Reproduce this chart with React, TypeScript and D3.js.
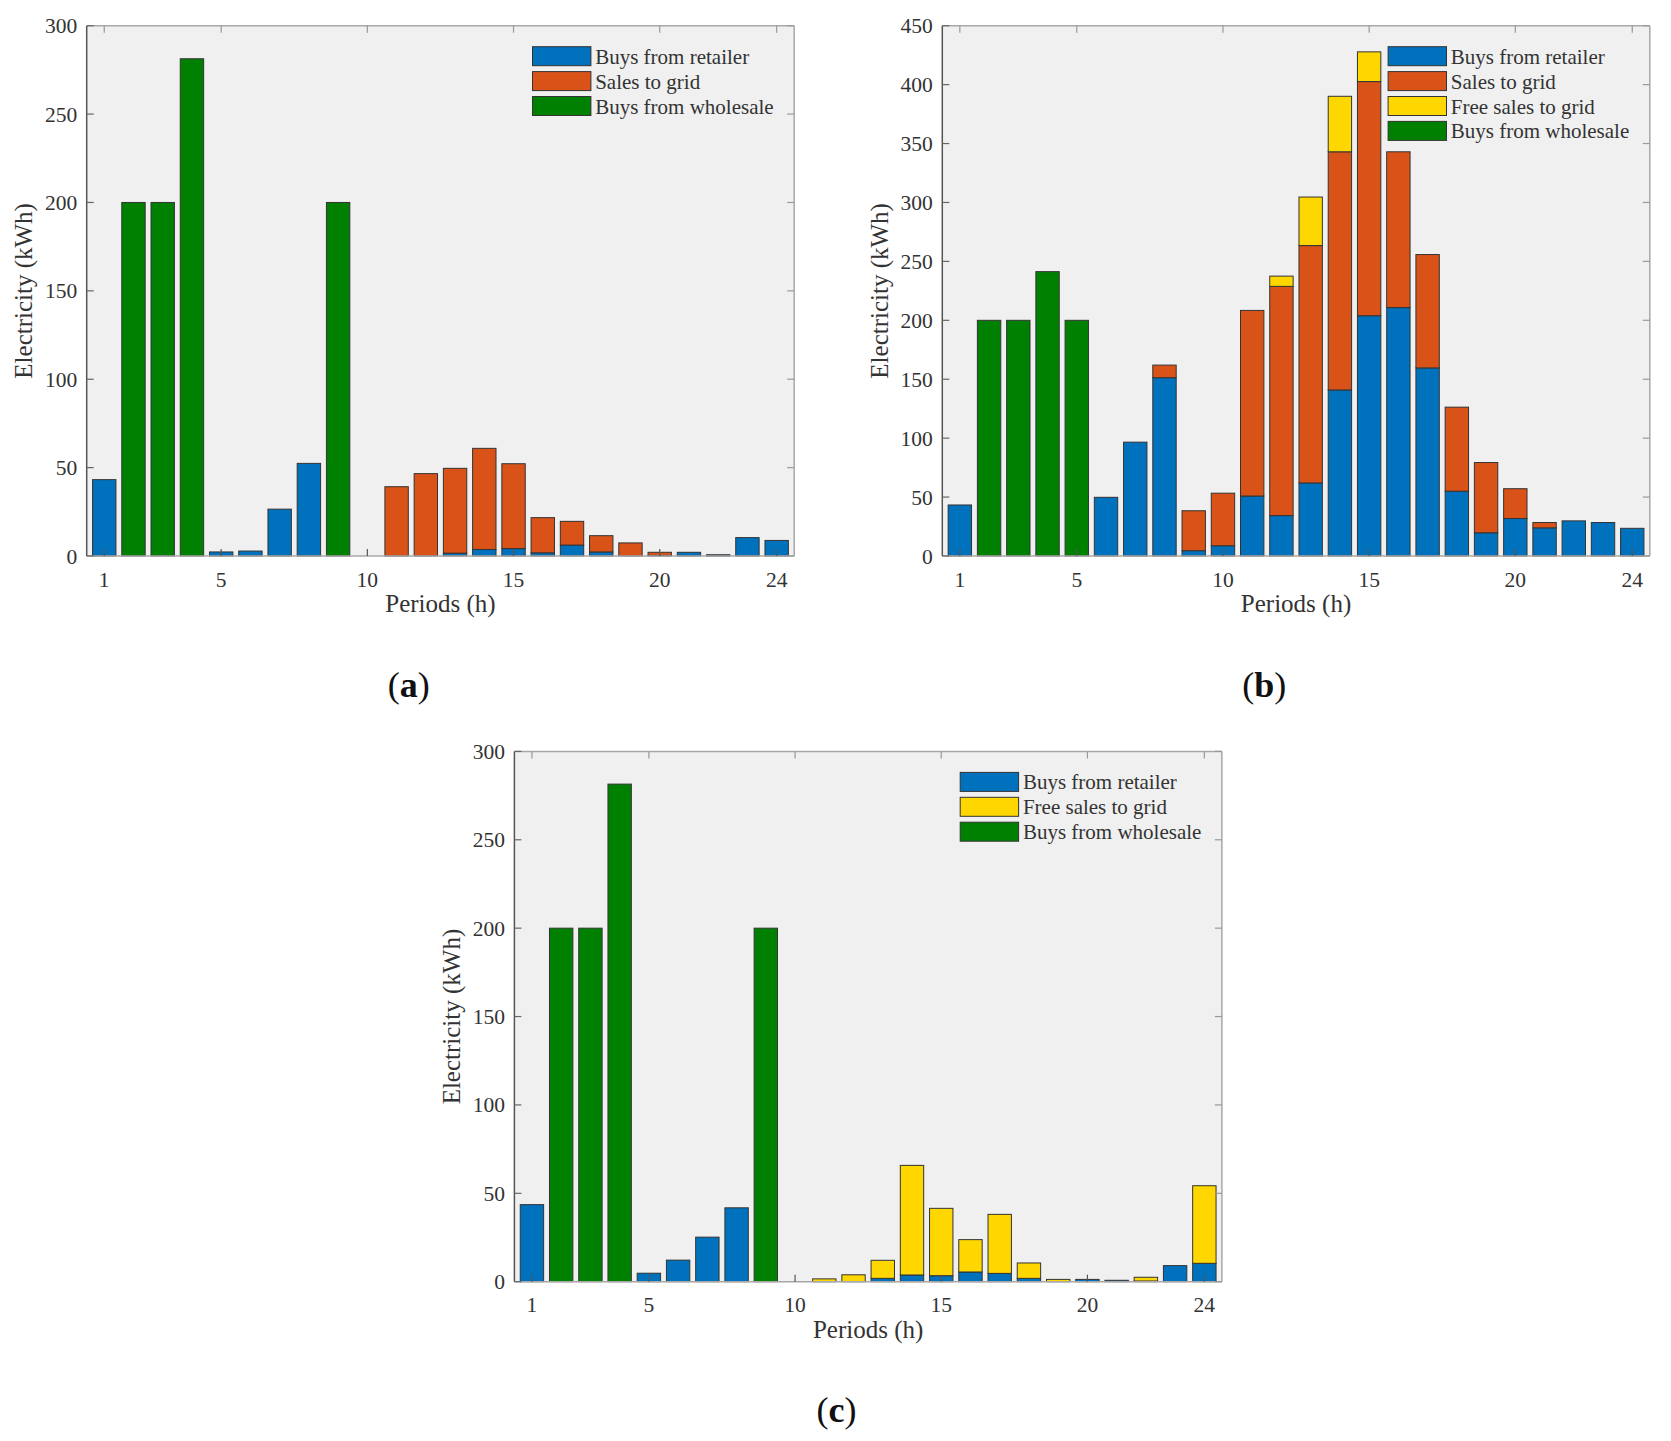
import React from 'react';
import * as d3 from 'd3';

const periods = [1, 2, 3, 4, 5, 6, 7, 8, 9, 10, 11, 12, 13, 14, 15, 16, 17, 18, 19, 20, 21, 22, 23, 24];
const xTickValues = [1, 5, 10, 15, 20, 24];

// Panel (a)
const aRetailer = [43.2, 0, 0, 0, 2.3, 2.8, 26.5, 52.4, 0, 0, 0, 0, 1.6, 3.7, 4.2, 1.8, 6.2, 2.3, 0, 0.3, 2.1, 0.7, 10.4, 8.8];
const aSales = [0, 0, 0, 0, 0, 0, 0, 0, 0, 0, 39.2, 46.6, 48.0, 57.2, 48.0, 19.9, 13.4, 9.2, 7.4, 1.8, 0, 0, 0, 0];
const aWholesale = [0, 200, 200, 281.3, 0, 0, 0, 0, 200, 0, 0, 0, 0, 0, 0, 0, 0, 0, 0, 0, 0, 0, 0, 0];

// Panel (b)
const bRetailer = [43.3, 0, 0, 0, 0, 49.8, 96.6, 151.3, 4.5, 8.7, 50.9, 34.3, 62.0, 140.9, 203.9, 210.8, 159.6, 55.0, 19.7, 31.8, 23.9, 29.8, 28.4, 23.5];
const bSales = [0, 0, 0, 0, 0, 0, 0, 10.7, 33.9, 44.6, 157.5, 194.5, 201.4, 202.1, 198.7, 132.2, 96.2, 71.3, 59.6, 25.3, 4.5, 0, 0, 0];
const bFree = [0, 0, 0, 0, 0, 0, 0, 0, 0, 0, 0, 8.7, 41.2, 47.1, 25.2, 0, 0, 0, 0, 0, 0, 0, 0, 0];
const bWholesale = [0, 200, 200, 241.3, 200, 0, 0, 0, 0, 0, 0, 0, 0, 0, 0, 0, 0, 0, 0, 0, 0, 0, 0, 0];

// Panel (c)
const cRetailer = [43.6, 0, 0, 0, 4.8, 12.2, 25.2, 41.8, 0, 0, 0, 0, 1.9, 3.8, 3.4, 5.5, 4.7, 1.9, 0, 1.3, 0.8, 0.4, 9.1, 10.4];
const cFree = [0, 0, 0, 0, 0, 0, 0, 0, 0, 0, 1.6, 3.9, 10.2, 62.0, 38.1, 18.3, 33.4, 8.7, 1.3, 0, 0, 2.1, 0, 43.9];
const cWholesale = [0, 200, 200, 281.5, 0, 0, 0, 0, 200, 0, 0, 0, 0, 0, 0, 0, 0, 0, 0, 0, 0, 0, 0, 0];

const COLORS = {
  retailer: '#0072BD',
  sales: '#D95319',
  free: '#FFD700',
  wholesale: '#008000',
};

const FONT = '"Liberation Serif", "Times New Roman", serif';
const TEXT = '#333333';

type Series = { key: string; label: string; color: string; values: number[] };

const PW = 707.5;
const PH = 530.3;

function Panel(props: {
  left: number;
  top: number;
  yMax: number;
  series: Series[];
  letter: string;
  captionY: number;
}) {
  const { left, top, yMax, series, letter, captionY } = props;
  const x = d3.scaleLinear().domain([0.4, 24.6]).range([left, left + PW]);
  const y = d3.scaleLinear().domain([0, yMax]).range([top + PH, top]);
  const rows = periods.map((p, i) => {
    const o: any = { period: p };
    series.forEach((s) => (o[s.key] = s.values[i]));
    return o;
  });
  const stacked = d3.stack<any>().keys(series.map((s) => s.key))(rows);
  const yTicks = y.ticks(yMax / 50);
  const bw = 0.8;
  const bottom = top + PH;
  const right = left + PW;
  const tl = 7;

  return (
    <g>
      <rect x={left} y={top} width={PW} height={PH} fill="#F0F0F0" />
      {stacked.map((layer, li) => (
        <g key={layer.key}>
          {layer.map((d, i) => {
            if (d[1] - d[0] <= 0) return null;
            const x0 = x(periods[i] - bw / 2);
            const x1 = x(periods[i] + bw / 2);
            return (
              <rect
                key={i}
                x={x0}
                y={y(d[1])}
                width={x1 - x0}
                height={y(d[0]) - y(d[1])}
                fill={series[li].color}
                stroke="#333333"
                strokeWidth={1}
              />
            );
          })}
        </g>
      ))}
      {/* frame */}
      <line x1={left} x2={right} y1={top} y2={top} stroke="#a8a8a8" strokeWidth={1.5} />
      <line x1={right} x2={right} y1={top} y2={bottom} stroke="#a8a8a8" strokeWidth={1.5} />
      <line x1={left} x2={right} y1={bottom} y2={bottom} stroke="#a8a8a8" strokeWidth={1.5} />
      <line x1={left} x2={left} y1={top} y2={bottom} stroke="#555555" strokeWidth={1.5} />
      {/* y ticks */}
      {yTicks.map((t) => (
        <g key={'y' + t}>
          <line x1={left} x2={left + tl} y1={y(t)} y2={y(t)} stroke="#666" strokeWidth={1.2} />
          <line x1={right} x2={right - tl} y1={y(t)} y2={y(t)} stroke="#999" strokeWidth={1.2} />
          <text
            x={left - 9.5}
            y={y(t)}
            dy="0.35em"
            textAnchor="end"
            fontFamily={FONT}
            fontSize={21.5}
            fill={TEXT}
          >
            {t}
          </text>
        </g>
      ))}
      {/* x ticks */}
      {xTickValues.map((t) => (
        <g key={'x' + t}>
          <line x1={x(t)} x2={x(t)} y1={bottom} y2={bottom - tl} stroke="#555" strokeWidth={1.2} />
          <line x1={x(t)} x2={x(t)} y1={top} y2={top + tl} stroke="#999" strokeWidth={1.2} />
          <text
            x={x(t)}
            y={bottom + 30.7}
            textAnchor="middle"
            fontFamily={FONT}
            fontSize={21.5}
            fill={TEXT}
          >
            {t}
          </text>
        </g>
      ))}
      {/* axis labels */}
      <text
        x={(left + right) / 2}
        y={bottom + 56.3}
        textAnchor="middle"
        fontFamily={FONT}
        fontSize={25}
        fill={TEXT}
      >
        Periods (h)
      </text>
      <text
        transform={`translate(${left - 54.7},${(top + bottom) / 2}) rotate(-90)`}
        textAnchor="middle"
        fontFamily={FONT}
        fontSize={25}
        fill={TEXT}
      >
        Electricity (kWh)
      </text>
      {/* legend */}
      {series.map((s, i) => {
        const lx = right - 261.7;
        const ly = top + 21 + i * 24.9;
        return (
          <g key={'lg' + s.key}>
            <rect x={lx} y={ly} width={58.4} height={19} fill={s.color} stroke="#333333" strokeWidth={1} />
            <text
              x={lx + 62.7}
              y={ly + 9.5}
              dy="0.36em"
              fontFamily={FONT}
              fontSize={21}
              fill={TEXT}
            >
              {s.label}
            </text>
          </g>
        );
      })}
      {/* caption */}
      <text x={left + 322} y={captionY} textAnchor="middle" fontFamily={FONT} fontSize={36} fill="#111">
        <tspan>(</tspan>
        <tspan fontWeight="bold">{letter}</tspan>
        <tspan>)</tspan>
      </text>
    </g>
  );
}

export default function App() {
  const seriesA: Series[] = [
    { key: 'retailer', label: 'Buys from retailer', color: COLORS.retailer, values: aRetailer },
    { key: 'sales', label: 'Sales to grid', color: COLORS.sales, values: aSales },
    { key: 'wholesale', label: 'Buys from wholesale', color: COLORS.wholesale, values: aWholesale },
  ];
  const seriesB: Series[] = [
    { key: 'retailer', label: 'Buys from retailer', color: COLORS.retailer, values: bRetailer },
    { key: 'sales', label: 'Sales to grid', color: COLORS.sales, values: bSales },
    { key: 'free', label: 'Free sales to grid', color: COLORS.free, values: bFree },
    { key: 'wholesale', label: 'Buys from wholesale', color: COLORS.wholesale, values: bWholesale },
  ];
  const seriesC: Series[] = [
    { key: 'retailer', label: 'Buys from retailer', color: COLORS.retailer, values: cRetailer },
    { key: 'free', label: 'Free sales to grid', color: COLORS.free, values: cFree },
    { key: 'wholesale', label: 'Buys from wholesale', color: COLORS.wholesale, values: cWholesale },
  ];
  return (
    <svg
      width={1671}
      height={1441}
      style={{ position: 'absolute', left: 0, top: 0, background: '#ffffff' }}
    >
      <rect x={0} y={0} width={1671} height={1441} fill="#ffffff" />
      <Panel left={86.7} top={25.7} yMax={300} series={seriesA} letter="a" captionY={697} />
      <Panel left={942.3} top={25.7} yMax={450} series={seriesB} letter="b" captionY={697} />
      <Panel left={514.4} top={751.4} yMax={300} series={seriesC} letter="c" captionY={1421.5} />
    </svg>
  );
}
